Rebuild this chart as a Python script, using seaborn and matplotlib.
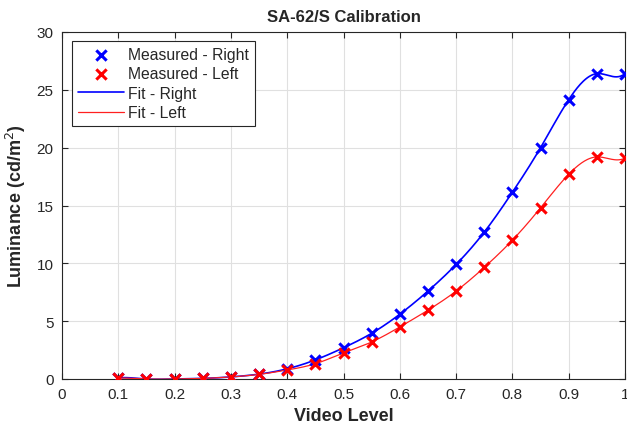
import numpy as np
import pandas as pd
import matplotlib
matplotlib.use("Agg")
import matplotlib.pyplot as plt
import seaborn as sns

video_level = [0.10, 0.15, 0.20, 0.25, 0.30, 0.35, 0.40, 0.45, 0.50, 0.55,
               0.60, 0.65, 0.70, 0.75, 0.80, 0.85, 0.90, 0.95, 1.00]
lum_right = [0.10, 0.00, 0.00, 0.05, 0.18, 0.42, 0.88, 1.65, 2.70, 3.95,
             5.60, 7.60, 9.90, 12.70, 16.15, 20.00, 24.15, 26.40, 26.40]
lum_left = [0.08, 0.00, 0.00, 0.05, 0.18, 0.40, 0.78, 1.32, 2.25, 3.20,
            4.50, 5.95, 7.60, 9.65, 12.00, 14.80, 17.70, 19.20, 19.10]

# end slopes of the fitted curves (start, end)
slopes_right = (4.0, 40.0)
slopes_left = (1.0, 25.0)

x_ticks = [0, 0.1, 0.2, 0.3, 0.4, 0.5, 0.6, 0.7, 0.8, 0.9, 1]
x_tick_labels = ["0", "0.1", "0.2", "0.3", "0.4", "0.5", "0.6", "0.7", "0.8", "0.9", "1"]
y_ticks = [0, 5, 10, 15, 20, 25, 30]


def clamped_spline(x, y, slopes, xs):
    """Cubic spline with given end slopes."""
    x = np.asarray(x, float)
    y = np.asarray(y, float)
    n = len(x) - 1
    h = np.diff(x)
    A = np.zeros((4 * n, 4 * n))
    b = np.zeros(4 * n)
    r = 0
    for i in range(n):
        A[r, 4 * i] = 1
        b[r] = y[i]
        r += 1
        A[r, 4 * i:4 * i + 4] = [1, h[i], h[i] ** 2, h[i] ** 3]
        b[r] = y[i + 1]
        r += 1
    for i in range(n - 1):
        A[r, 4 * i:4 * i + 4] = [0, 1, 2 * h[i], 3 * h[i] ** 2]
        A[r, 4 * (i + 1) + 1] = -1
        r += 1
        A[r, 4 * i:4 * i + 4] = [0, 0, 2, 6 * h[i]]
        A[r, 4 * (i + 1) + 2] = -2
        r += 1
    A[r, 1] = 1
    b[r] = slopes[0]
    r += 1
    A[r, 4 * (n - 1):4 * n] = [0, 1, 2 * h[-1], 3 * h[-1] ** 2]
    b[r] = slopes[1]
    coef = np.linalg.solve(A, b).reshape(n, 4)
    idx = np.clip(np.searchsorted(x, xs, side="right") - 1, 0, n - 1)
    t = xs - x[idx]
    c = coef[idx]
    return c[:, 0] + c[:, 1] * t + c[:, 2] * t ** 2 + c[:, 3] * t ** 3


x_fit = np.linspace(video_level[0], video_level[-1], 500)
fit_right = clamped_spline(video_level, lum_right, slopes_right, x_fit)
fit_left = clamped_spline(video_level, lum_left, slopes_left, x_fit)

meas = pd.DataFrame({"level": video_level, "right": lum_right, "left": lum_left})
fit = pd.DataFrame({"level": x_fit, "right": fit_right, "left": fit_left})

sns.set_style("whitegrid")
plt.rcParams["font.family"] = ["Liberation Sans", "DejaVu Sans"]

fig = plt.figure(figsize=(6.27, 4.27), dpi=100)
ax = fig.add_axes([62 / 627, 1 - 380 / 427, (625 - 62) / 627, (380 - 33) / 427])

sns.scatterplot(data=meas, x="level", y="right", marker="x", s=55, linewidth=2.2,
                color="#0000ff", label="Measured - Right", ax=ax, zorder=4)
sns.scatterplot(data=meas, x="level", y="left", marker="x", s=55, linewidth=2.2,
                color="#ff0000", label="Measured - Left", ax=ax, zorder=4)
sns.lineplot(data=fit, x="level", y="right", color="#0000ff", linewidth=1.2,
             label="Fit - Right", ax=ax, zorder=3)
sns.lineplot(data=fit, x="level", y="left", color="#ff2020", linewidth=0.9,
             label="Fit - Left", ax=ax, zorder=3)

ax.set_xlim(0, 1)
ax.set_ylim(0, 30)
ax.set_xticks(x_ticks)
ax.set_xticklabels(x_tick_labels)
ax.set_yticks(y_ticks)
ax.tick_params(axis="both", direction="in", length=4, width=0.8, colors="#262626",
               labelsize=11, pad=6, top=True, right=True, bottom=True, left=True)
ax.grid(True, color="#e0e0e0", linewidth=0.8)
for s in ax.spines.values():
    s.set_color("#262626")
    s.set_linewidth(0.8)
    s.set_visible(True)

ax.set_title("SA-62/S Calibration", fontsize=12, fontweight="bold", pad=8)
ax.set_xlabel("Video Level", fontsize=13, fontweight="bold", labelpad=4)
ax.set_ylabel("Luminance (cd/m$^2$)", fontsize=13, fontweight="bold", labelpad=6)

leg = ax.legend(loc="upper left", bbox_to_anchor=(0.018, 0.975), fontsize=11.3,
                frameon=True, fancybox=False, edgecolor="#262626", framealpha=1,
                handlelength=2.9, borderpad=0.4, labelspacing=0.28, handletextpad=0.25,
                borderaxespad=0.0)
leg.get_frame().set_linewidth(0.8)

fig.savefig("out.png", dpi=100)
